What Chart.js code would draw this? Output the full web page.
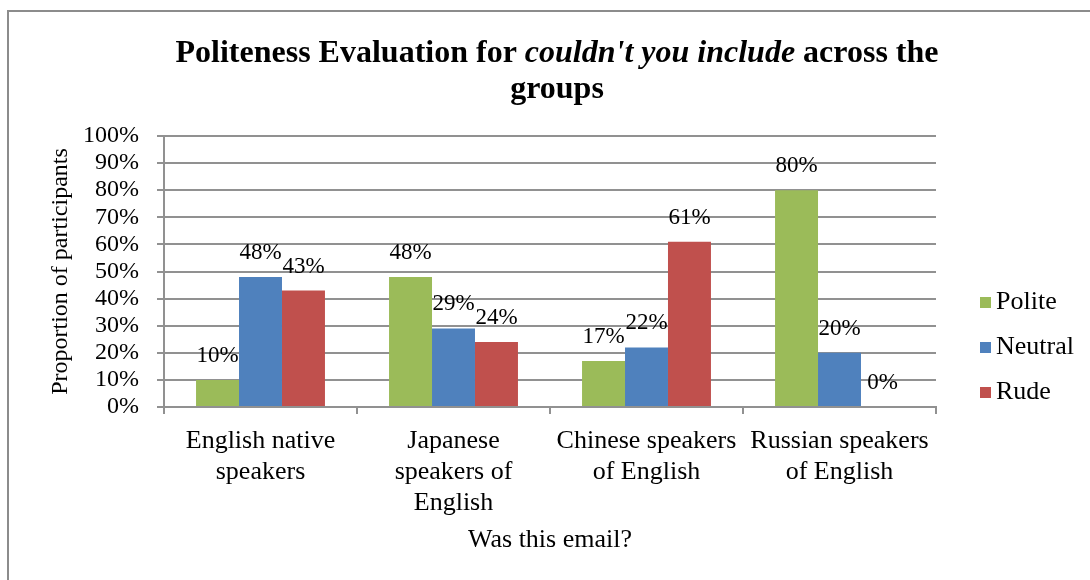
<!DOCTYPE html>
<html>
<head>
<meta charset="utf-8">
<script src="https://cdn.jsdelivr.net/npm/chart.js@4"></script>
<style>
  html, body { margin: 0; padding: 0; background: #fff; }
  #wrap { width: 1090px; height: 580px; position: relative; }
</style>
</head>
<body>
<div id="wrap"><canvas id="graph" width="1090" height="580"></canvas></div>
<script>
// chart data
const groups = [
  ["English native", "speakers"],
  ["Japanese", "speakers of", "English"],
  ["Chinese speakers", "of English"],
  ["Russian speakers", "of English"]
];
const polite = [10, 48, 17, 80];
const neutral = [48, 29, 22, 20];
const rude = [43, 24, 61, 0];
const yTicks = [0, 10, 20, 30, 40, 50, 60, 70, 80, 90, 100];

const serif = "'Liberation Serif', 'Times New Roman', serif";
const gridGray = "#919191";

// white background + frame
const framePlugin = {
  id: "frame",
  beforeDraw(chart) {
    const c = chart.ctx;
    c.save();
    c.fillStyle = "#fff";
    c.fillRect(0, 0, chart.width, chart.height);
    c.strokeStyle = "#8c8c8c";
    c.lineWidth = 2;
    c.beginPath();
    c.moveTo(8, chart.height + 2);
    c.lineTo(8, 11);
    c.lineTo(chart.width + 2, 11);
    c.stroke();
    c.restore();
  }
};

// title with an italic part
const titlePlugin = {
  id: "mixedTitle",
  afterDraw(chart) {
    const c = chart.ctx;
    const parts = [
      { t: "Politeness Evaluation for ", f: "bold 32px " + serif },
      { t: "couldn't you include", f: "italic bold 32px " + serif },
      { t: " across the", f: "bold 32px " + serif }
    ];
    c.save();
    c.fillStyle = "#000";
    c.textBaseline = "middle";
    let w = 0;
    parts.forEach(p => { c.font = p.f; w += c.measureText(p.t).width; });
    let x = 557 - w / 2;
    c.textAlign = "left";
    parts.forEach(p => { c.font = p.f; c.fillText(p.t, x, 54); x += c.measureText(p.t).width; });
    c.font = "bold 32px " + serif;
    c.textAlign = "center";
    c.fillText("groups", 557, 90);
    c.restore();
  }
};

// value labels over the bars
const labelPlugin = {
  id: "valueLabels",
  afterDatasetsDraw(chart) {
    const c = chart.ctx;
    c.save();
    c.font = "23px " + serif;
    c.fillStyle = "#000";
    c.textAlign = "center";
    c.textBaseline = "middle";
    chart.data.datasets.forEach((ds, i) => {
      chart.getDatasetMeta(i).data.forEach((bar, j) => {
        c.fillText(ds.data[j] + "%", bar.x, bar.y - 24);
      });
    });
    c.restore();
  }
};

// legend on the right
const legendPlugin = {
  id: "sideLegend",
  afterDraw(chart) {
    const c = chart.ctx;
    c.save();
    c.font = "26px " + serif;
    c.textBaseline = "middle";
    c.textAlign = "left";
    chart.data.datasets.forEach((ds, i) => {
      const y = 302 + i * 45;
      c.fillStyle = ds.backgroundColor;
      c.fillRect(980, y - 5, 11, 11);
      c.fillStyle = "#000";
      c.fillText(ds.label, 996, y);
    });
    c.restore();
  }
};

const ctx = document.getElementById("graph");

new Chart(ctx, {
  type: "bar",
  data: {
    labels: groups,
    datasets: [
      { label: "Polite", data: polite, backgroundColor: "#9BBB59" },
      { label: "Neutral", data: neutral, backgroundColor: "#4F81BD" },
      { label: "Rude", data: rude, backgroundColor: "#C0504D" }
    ]
  },
  options: {
    responsive: false,
    animation: false,
    layout: { padding: { top: 136, right: 154, left: 0, bottom: 0 } },
    datasets: { bar: { categoryPercentage: 0.668, barPercentage: 1.0 } },
    plugins: {
      legend: { display: false },
      title: { display: false },
      tooltip: { enabled: false }
    },
    scales: {
      x: {
        afterFit: s => { s.height = 173; },
        grid: { drawOnChartArea: false, drawTicks: true, tickLength: 7, color: gridGray, lineWidth: 2 },
        border: { display: true, color: gridGray, width: 2 },
        ticks: { color: "#000", font: { family: serif, size: 26, lineHeight: 1.19 }, padding: 12, maxRotation: 0, autoSkip: false },
        title: { display: true, text: "Was this email?", color: "#000", font: { family: serif, size: 26 }, padding: { top: 0, bottom: 24 } }
      },
      y: {
        min: 0,
        max: 100,
        afterFit: s => { s.width = 164; },
        afterBuildTicks: s => { s.ticks = yTicks.map(v => ({ value: v })); },
        grid: { color: gridGray, lineWidth: 2, tickLength: 7 },
        border: { display: true, color: gridGray, width: 2 },
        ticks: { color: "#000", font: { family: serif, size: 24 }, padding: 18, autoSkip: false, callback: v => v + "%" },
        title: { display: true, text: "Proportion of participants", color: "#000", font: { family: serif, size: 24 }, padding: { top: 46, bottom: 0 } }
      }
    }
  },
  plugins: [framePlugin, labelPlugin, legendPlugin, titlePlugin]
});
</script>
</body>
</html>
